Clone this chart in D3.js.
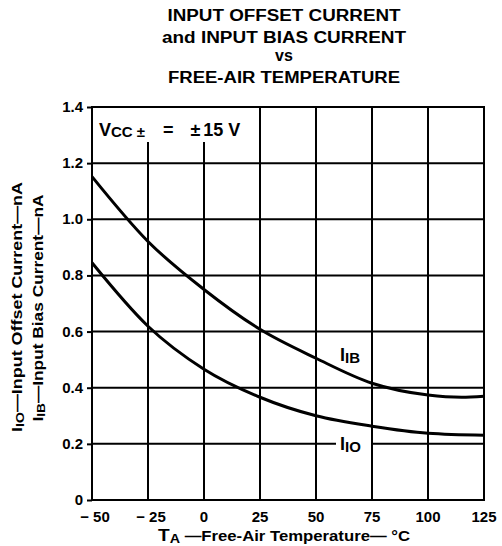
<!DOCTYPE html>
<html><head><meta charset="utf-8">
<script src="https://cdn.jsdelivr.net/npm/d3@7"></script>
<style>
body{margin:0;background:#fff;}
text{font-family:"Liberation Sans",Arial,Helvetica,sans-serif;font-weight:bold;fill:#000;}
</style></head>
<body><svg id="c" width="502" height="546"></svg>
<script>
// ---- data ----
const xTicks = [-50, -25, 0, 25, 50, 75, 100, 125];
const yTicks = [0, 0.2, 0.4, 0.6, 0.8, 1.0, 1.2, 1.4];
const tempIIB = [-50, -25, 0, 25, 50, 75, 100, 115, 125];
const valIIB  = [1.152, 0.921, 0.75, 0.608, 0.505, 0.416, 0.374, 0.366, 0.37];
const tempIIO = [-50, -25, 0, 25, 50, 75, 100, 125];
const valIIO  = [0.845, 0.619, 0.466, 0.366, 0.30, 0.263, 0.238, 0.231];
const titleLines = ["INPUT OFFSET CURRENT", "and INPUT BIAS CURRENT", "vs", "FREE-AIR TEMPERATURE"];

const svg = d3.select("#c");
const L = 92, R = 484, T = 107, B = 500;
const x = d3.scaleLinear().domain([-50, 125]).range([L, R]);
const y = d3.scaleLinear().domain([0, 1.4]).range([B, T]);

// title
const tY = [21, 43, 61, 83];
const tW = [233, 244, 0, 232];
titleLines.forEach((s, i) => {
  const t = svg.append("text").attr("x", 284).attr("y", tY[i]).attr("text-anchor", "middle")
    .attr("font-size", 16).text(s);
  if (tW[i]) t.attr("textLength", tW[i]).attr("lengthAdjust", "spacingAndGlyphs");
});

// grid
const g = svg.append("g");
g.selectAll(".vg").data(xTicks).join("line")
  .attr("x1", d => x(d)).attr("x2", d => x(d)).attr("y1", T).attr("y2", B)
  .attr("stroke", "#000").attr("stroke-width", 2);
g.selectAll(".hg").data(yTicks).join("line")
  .attr("x1", L).attr("x2", R).attr("y1", d => y(d)).attr("y2", d => y(d))
  .attr("stroke", "#000").attr("stroke-width", 2);

// left axis ticks (outward)
const ax = svg.append("g").attr("transform", `translate(${L},0)`)
  .call(d3.axisLeft(y).tickValues(yTicks).tickSize(5).tickFormat(""));
ax.select(".domain").remove();
ax.selectAll("line").attr("stroke-width", 2);

// frame
svg.append("rect").attr("x", L).attr("y", T).attr("width", R - L).attr("height", B - T)
  .attr("fill", "none").attr("stroke", "#000").attr("stroke-width", 2);

// VCC box (white patch clearing the grid, bounded on the right by the 25 °C gridline)
svg.append("rect").attr("x", L + 1).attr("y", T + 1).attr("width", x(25) - L - 2).attr("height", 34).attr("fill", "#fff");
const vt = svg.append("text").attr("x", 99).attr("y", 136).attr("font-size", 18);
vt.append("tspan").text("V");
vt.append("tspan").attr("font-size", 15).attr("dy", 1).text("CC");
vt.append("tspan").attr("font-size", 15).attr("dx", 4).text("\u00b1");
vt.append("tspan").attr("dy", -1).attr("dx", 18).text("=");
vt.append("tspan").attr("dx", 17).text("\u00b1");
vt.append("tspan").attr("dx", 3).text("15 V");

// curves
const line = d3.line().x(d => x(d[0])).y(d => y(d[1])).curve(d3.curveMonotoneX);
svg.append("path").datum(d3.zip(tempIIB, valIIB)).attr("d", line)
  .attr("fill", "none").attr("stroke", "#000").attr("stroke-width", 3);
svg.append("path").datum(d3.zip(tempIIO, valIIO)).attr("d", line)
  .attr("fill", "none").attr("stroke", "#000").attr("stroke-width", 3);

// curve labels
svg.append("rect").attr("x", 336).attr("y", 439).attr("width", 35).attr("height", 13).attr("fill", "#fff");
function subLabel(px, py, main, sub) {
  const t = svg.append("text").attr("x", px).attr("y", py).attr("font-size", 18);
  t.append("tspan").text(main);
  t.append("tspan").attr("font-size", 15).attr("dy", 2).text(sub);
}
subLabel(340, 361, "I", "IB");
subLabel(340, 450, "I", "IO");

// tick labels
svg.selectAll(".yl").data(yTicks).join("text")
  .attr("x", 83).attr("y", d => y(d) + 5).attr("text-anchor", "end").attr("font-size", 15)
  .text(d => d === 0 ? "0" : d3.format(".1f")(d));
svg.selectAll(".xl").data(xTicks).join("text")
  .attr("x", d => x(d) + (d < 0 ? 3 : 0)).attr("y", 522).attr("text-anchor", "middle").attr("font-size", 15)
  .text(d => d < 0 ? "\u2212 " + Math.abs(d) : String(d));

// axis titles
const xt = svg.append("text").attr("x", 284).attr("y", 541).attr("text-anchor", "middle").attr("font-size", 14)
  .attr("textLength", 252).attr("lengthAdjust", "spacingAndGlyphs");
xt.append("tspan").attr("font-size", 16).text("T");
xt.append("tspan").attr("font-size", 12).attr("dy", 2).text("A");
xt.append("tspan").attr("dy", -2).text(" \u2014Free-Air Temperature\u2014 \u00b0C");

function yTitle(cx, cy, sub, rest, len) {
  const t = svg.append("text").attr("transform", `translate(${cx},${cy}) rotate(-90)`)
    .attr("text-anchor", "middle").attr("font-size", 14)
    .attr("textLength", len).attr("lengthAdjust", "spacingAndGlyphs");
  t.append("tspan").text("I");
  t.append("tspan").attr("font-size", 11).attr("dy", 2).text(sub);
  t.append("tspan").attr("dy", -2).text(rest);
}
yTitle(22, 307, "IO", "\u2014Input Offset Current\u2014nA", 250);
yTitle(43, 308, "IB", "\u2014Input Bias Current\u2014nA", 227);
</script></body></html>
